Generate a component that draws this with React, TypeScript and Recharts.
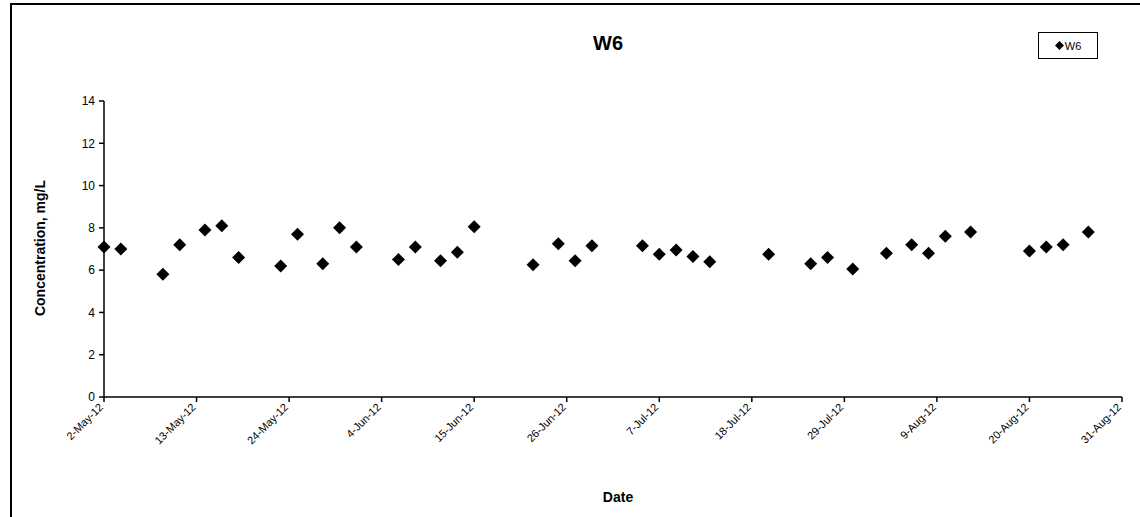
import { ScatterChart, Scatter, XAxis, YAxis } from "recharts";

// W6 sampling dates and concentrations (mg/L)
const sampleDates = [
  "2012-05-02", "2012-05-04", "2012-05-09", "2012-05-11", "2012-05-14",
  "2012-05-16", "2012-05-18", "2012-05-23", "2012-05-25", "2012-05-28",
  "2012-05-30", "2012-06-01", "2012-06-06", "2012-06-08", "2012-06-11",
  "2012-06-13", "2012-06-15", "2012-06-22", "2012-06-25", "2012-06-27",
  "2012-06-29", "2012-07-05", "2012-07-07", "2012-07-09", "2012-07-11",
  "2012-07-13", "2012-07-20", "2012-07-25", "2012-07-27", "2012-07-30",
  "2012-08-03", "2012-08-06", "2012-08-08", "2012-08-10", "2012-08-13",
  "2012-08-20", "2012-08-22", "2012-08-24", "2012-08-27",
];
const w6Values = [
  7.1, 7.0, 5.8, 7.2, 7.9,
  8.1, 6.6, 6.2, 7.7, 6.3,
  8.0, 7.1, 6.5, 7.1, 6.45,
  6.85, 8.05, 6.25, 7.25, 6.45,
  7.15, 7.15, 6.75, 6.95, 6.65,
  6.4, 6.75, 6.3, 6.6, 6.05,
  6.8, 7.2, 6.8, 7.6, 7.8,
  6.9, 7.1, 7.2, 7.8,
];
const xTickDates = [
  "2012-05-02", "2012-05-13", "2012-05-24", "2012-06-04", "2012-06-15",
  "2012-06-26", "2012-07-07", "2012-07-18", "2012-07-29", "2012-08-09",
  "2012-08-20", "2012-08-31",
];
const yTicks = [0, 2, 4, 6, 8, 10, 12, 14];

const MONTHS = ["Jan", "Feb", "Mar", "Apr", "May", "Jun", "Jul", "Aug", "Sep", "Oct", "Nov", "Dec"];
const FONT = "'Liberation Sans', Arial, sans-serif";

const toTime = (s: string) => {
  const [y, m, d] = s.split("-").map(Number);
  return Date.UTC(y, m - 1, d);
};

const fmtDate = (t: number) => {
  const d = new Date(t);
  return `${d.getUTCDate()}-${MONTHS[d.getUTCMonth()]}-${String(d.getUTCFullYear()).slice(2)}`;
};

const data = sampleDates.map((s, i) => ({ x: toTime(s), y: w6Values[i] }));
const xTicks = xTickDates.map(toTime);

const Diamond = (props: any) => {
  const { cx, cy } = props;
  const r = 6.5;
  return (
    <polygon
      points={`${cx},${cy - r} ${cx + r},${cy} ${cx},${cy + r} ${cx - r},${cy}`}
      fill="#000"
    />
  );
};

const DateTick = (props: any) => {
  const { x, y, payload } = props;
  return (
    <g transform={`translate(${x - 3},${y + 1})`}>
      <text
        x={0}
        y={0}
        dy={4}
        textAnchor="end"
        transform="rotate(-45)"
        fontSize={11}
        fontFamily={FONT}
        fill="#000"
      >
        {fmtDate(payload.value)}
      </text>
    </g>
  );
};

export default function App() {
  return (
    <div
      style={{
        position: "absolute",
        left: 0,
        top: 0,
        width: 1140,
        height: 517,
        background: "#fff",
        fontFamily: FONT,
        overflow: "hidden",
      }}
    >
      {/* frame */}
      <div
        style={{
          position: "absolute",
          left: 10,
          top: 3,
          width: 1200,
          height: 600,
          borderTop: "2px solid #000",
          borderLeft: "2px solid #000",
        }}
      />
      <div
        style={{
          position: "absolute",
          left: 0,
          width: 1216,
          top: 32,
          textAlign: "center",
          fontSize: 20,
          fontWeight: "bold",
        }}
      >
        W6
      </div>
      {/* legend */}
      <div
        style={{
          position: "absolute",
          left: 1038,
          top: 32,
          width: 58,
          height: 25,
          border: "1.5px solid #000",
          display: "flex",
          alignItems: "center",
          justifyContent: "center",
          fontSize: 11,
        }}
      >
        <svg width={9} height={9} style={{ marginRight: 1 }}>
          <polygon points="4.5,0 9,4.5 4.5,9 0,4.5" fill="#000" />
        </svg>
        W6
      </div>
      <div
        style={{
          position: "absolute",
          left: 40,
          top: 248,
          transform: "translate(-50%, -50%) rotate(-90deg)",
          whiteSpace: "nowrap",
          fontSize: 14,
          fontWeight: "bold",
        }}
      >
        Concentration, mg/L
      </div>
      <div
        style={{
          position: "absolute",
          left: 618,
          top: 497,
          transform: "translate(-50%, -50%)",
          fontSize: 14,
          fontWeight: "bold",
        }}
      >
        Date
      </div>
      <div style={{ position: "absolute", left: 0, top: 0 }}>
        <ScatterChart
          width={1140}
          height={517}
          margin={{ top: 101, right: 18, bottom: 0, left: 0 }}
        >
          <XAxis
            type="number"
            dataKey="x"
            domain={[xTicks[0], xTicks[xTicks.length - 1]]}
            ticks={xTicks}
            interval={0}
            height={120}
            stroke="#000"
            strokeWidth={1.5}
            tickSize={5}
            tick={<DateTick />}
          />
          <YAxis
            type="number"
            dataKey="y"
            domain={[0, 14]}
            ticks={yTicks}
            interval={0}
            width={104}
            stroke="#000"
            strokeWidth={1.5}
            tickSize={5}
            tickMargin={4}
            tick={{ fontSize: 12, fill: "#000", fontFamily: FONT }}
          />
          <Scatter
            name="W6"
            data={data}
            shape={<Diamond />}
            isAnimationActive={false}
          />
        </ScatterChart>
      </div>
    </div>
  );
}
